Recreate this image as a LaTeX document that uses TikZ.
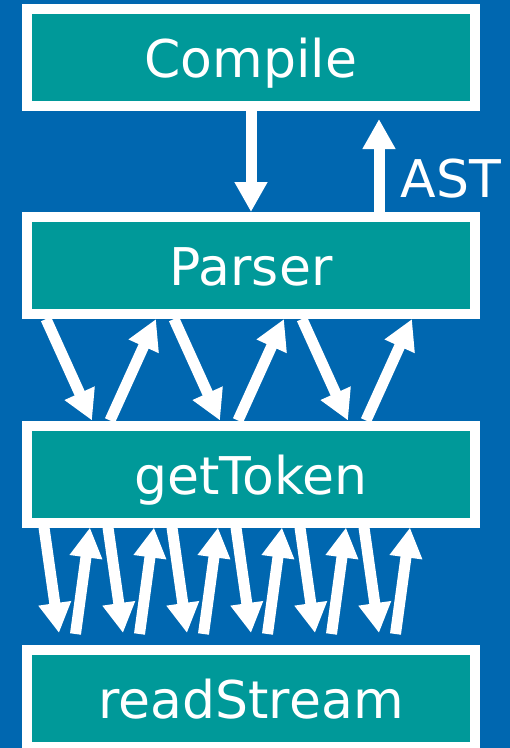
\documentclass[tikz,border=0pt]{standalone}
\usepackage{fontspec}
\setmainfont{DejaVu Sans}
\usetikzlibrary{arrows.meta,calc}
\definecolor{bgblue}{RGB}{0,103,176}
\definecolor{boxteal}{RGB}{0,153,153}
\tikzset{
  layer/.style={draw=white, line width=10pt, fill=boxteal, text=white,
    minimum width=448pt, minimum height=97pt, inner sep=0pt,
    text height=40pt, text depth=0pt, font=\fontsize{52}{60}\selectfont},
  arr/.style={draw=white, line width=11pt, -{Triangle[width=31pt,length=30pt]}}
}
\begin{document}
\begin{tikzpicture}[x=1pt, y=1pt]
  \fill[bgblue] (0,0) rectangle (510,-748);
  \clip (0,0) rectangle (510,-748);
  \useasboundingbox (0,0) rectangle (510,-748);
  \node[layer](compile) at (251,-57.5) {Compile};
  \node[layer](parser) at (251,-265.5) {Parser};
  \node[layer](gettoken) at (251,-474) {getToken};
  \node[layer](readstream) at (251,-698.5) {readStream};
  % Compile <-> Parser
  \draw[arr](compile.south) -- (parser.north);
  \coordinate(astend) at ($(compile.south west)+(357,-8)$);
  \draw[arr]($(parser.north west)+(357,0)$) -- (astend);
  \node(ast)[anchor=base west, text=white, font=\fontsize{52}{60}\selectfont] at (397,-197) {AST};
  % Parser <-> getToken
  \foreach \i in {0,1,2}{
    \draw[arr]($(parser.south west)+(24+128*\i,0)$) -- ($(gettoken.north west)+(70+128*\i,0)$);
    \draw[arr]($(gettoken.north west)+(88+128*\i,0)$) -- ($(parser.south west)+(134+128*\i,0)$);
  }
  % getToken <-> readStream
  \foreach \i in {0,...,5}{
    \coordinate(rd\i) at ($(readstream.north west)+(37+64*\i,12)$);
    \coordinate(ru\i) at ($(readstream.north west)+(53.5+64*\i,11)$);
    \draw[arr]($(gettoken.south west)+(22+64*\i,0)$) -- (rd\i);
    \draw[arr](ru\i) -- ($(gettoken.south west)+(68+64*\i,0)$);
  }
\end{tikzpicture}
\end{document}
